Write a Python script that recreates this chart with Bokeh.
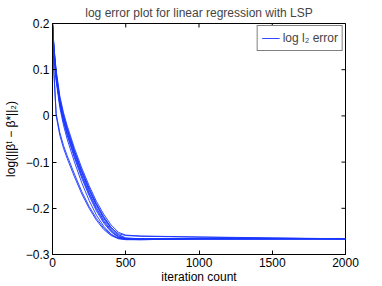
import math
from bokeh.plotting import figure
from bokeh.models import FixedTicker, CustomJSTickFormatter, Range1d, Legend, LegendItem
from bokeh.embed import file_html
from bokeh.resources import INLINE

# ---- data ----
iterations = [0, 10, 25, 50, 75, 100, 150, 200, 250, 300, 350, 400, 450, 500,
              600, 800, 1000, 1250, 1500, 1750, 2000]

run01 = [0.200, 0.130, 0.075, 0.018, -0.020, -0.050, -0.100, -0.145, -0.183, -0.215, -0.239,
         -0.256, -0.265, -0.267, -0.267, -0.267, -0.266, -0.266, -0.266, -0.266, -0.266]
run02 = [0.200, 0.135, 0.080, 0.024, -0.013, -0.042, -0.091, -0.135, -0.173, -0.206, -0.232,
         -0.251, -0.263, -0.266, -0.2665, -0.266, -0.266, -0.266, -0.266, -0.266, -0.266]
run03 = [0.200, 0.140, 0.085, 0.028, -0.008, -0.036, -0.085, -0.128, -0.166, -0.199, -0.226,
         -0.247, -0.261, -0.266, -0.2665, -0.266, -0.266, -0.266, -0.266, -0.266, -0.266]
run04 = [0.200, 0.143, 0.090, 0.033, -0.003, -0.031, -0.080, -0.123, -0.161, -0.194, -0.222,
         -0.244, -0.259, -0.265, -0.266, -0.266, -0.266, -0.266, -0.266, -0.266, -0.266]
run05 = [0.200, 0.147, 0.095, 0.038, 0.002, -0.026, -0.075, -0.118, -0.156, -0.190, -0.218,
         -0.241, -0.257, -0.264, -0.266, -0.266, -0.266, -0.266, -0.266, -0.266, -0.266]
run06 = [0.200, 0.150, 0.099, 0.043, 0.007, -0.021, -0.070, -0.113, -0.151, -0.185, -0.213,
         -0.236, -0.252, -0.258, -0.260, -0.261, -0.262, -0.263, -0.264, -0.265, -0.266]
run07 = [0.200, 0.145, 0.092, 0.035, -0.001, -0.029, -0.078, -0.121, -0.159, -0.192, -0.220,
         -0.242, -0.255, -0.259, -0.2605, -0.2615, -0.2625, -0.2635, -0.2645, -0.2655, -0.266]
run08 = [0.200, 0.095, 0.005, -0.036, -0.064, -0.086, -0.126, -0.164, -0.196, -0.222, -0.243,
         -0.257, -0.265, -0.267, -0.268, -0.267, -0.266, -0.266, -0.266, -0.266, -0.266]
run09 = [0.200, 0.090, 0.000, -0.042, -0.070, -0.092, -0.132, -0.169, -0.200, -0.226, -0.246,
         -0.259, -0.266, -0.268, -0.268, -0.267, -0.266, -0.266, -0.266, -0.266, -0.266]
run10 = [0.200, 0.138, 0.083, 0.026, -0.010, -0.039, -0.088, -0.131, -0.169, -0.202, -0.229,
         -0.249, -0.262, -0.266, -0.266, -0.266, -0.266, -0.266, -0.266, -0.266, -0.266]

runs = [run01, run02, run03, run04, run05, run06, run07, run08, run09, run10]

x_ticks = [0, 500, 1000, 1500, 2000]
y_ticks = [-0.3, -0.2, -0.1, 0, 0.1, 0.2]
x_lim = [0, 2000]
y_lim = [-0.3, 0.2]

title_text = "log error plot for linear regression with LSP"
x_label = "iteration count"
y_label = "log(||\u03b2\u1d57 \u2212 \u03b2*||\u2082)"
legend_text = "log l\u2082 error"

FONT = "Liberation Sans"

p = figure(width=366, height=286, output_backend="svg", toolbar_location=None,
           x_range=Range1d(*x_lim), y_range=Range1d(*y_lim),
           title=title_text, min_border_left=45, min_border_right=21,
           min_border_top=13, min_border_bottom=32)

p.title.text_font = FONT
p.title.text_font_size = "12px"
p.title.text_font_style = "normal"
p.title.align = "center"
p.title.standoff = 7
p.title.offset = 0

p.xgrid.visible = False
p.ygrid.visible = False
p.outline_line_color = "black"
p.outline_line_width = 1
p.background_fill_color = "white"
p.border_fill_color = "white"

ml = p.multi_line(xs=[iterations] * len(runs), ys=runs, line_color="#1a35ff",
                  line_width=1, line_alpha=0.9)

# inward tick marks on the top and right edges (box style)
p.scatter(x=x_ticks, y=[y_lim[1]] * len(x_ticks), marker="dash", size=8,
          angle=math.pi / 2, line_color="black", line_width=1)
p.scatter(x=[x_lim[1]] * len(y_ticks), y=y_ticks, marker="dash", size=8,
          line_color="black", line_width=1)

fmt = CustomJSTickFormatter(code="""
    if (Math.abs(tick) < 1e-9) { return "0"; }
    return tick.toFixed(1).replace("-", "\u2212");
""")

for ax in p.xaxis:
    ax.ticker = FixedTicker(ticks=x_ticks)
for ax in p.yaxis:
    ax.ticker = FixedTicker(ticks=y_ticks)
    ax.formatter = fmt

for ax in list(p.xaxis) + list(p.yaxis):
    ax.major_tick_in = 4
    ax.major_tick_out = 0
    ax.minor_tick_line_color = None
    ax.axis_line_color = "black"
    ax.major_tick_line_color = "black"
    ax.major_label_text_font = FONT
    ax.major_label_text_font_size = "12px"
    ax.major_label_text_color = "black"
    ax.axis_label_text_font = FONT
    ax.axis_label_text_font_size = "12px"
    ax.axis_label_text_font_style = "normal"
    ax.axis_label_text_color = "black"

p.xaxis.major_label_standoff = 3
p.yaxis.major_label_standoff = 3
p.xaxis.axis_label = x_label
p.yaxis.axis_label = y_label
p.xaxis.axis_label_standoff = 0
p.yaxis.axis_label_standoff = 5

legend = Legend(items=[LegendItem(label=legend_text, renderers=[ml])],
                location="top_right", margin=2, padding=4, spacing=0,
                glyph_width=18, glyph_height=16, label_standoff=3, label_height=16,
                label_text_font=FONT, label_text_font_size="12px",
                border_line_color="black", border_line_width=1,
                background_fill_color="white", background_fill_alpha=1)
p.add_layout(legend, "center")

open("out.html", "w").write(file_html(p, INLINE))
